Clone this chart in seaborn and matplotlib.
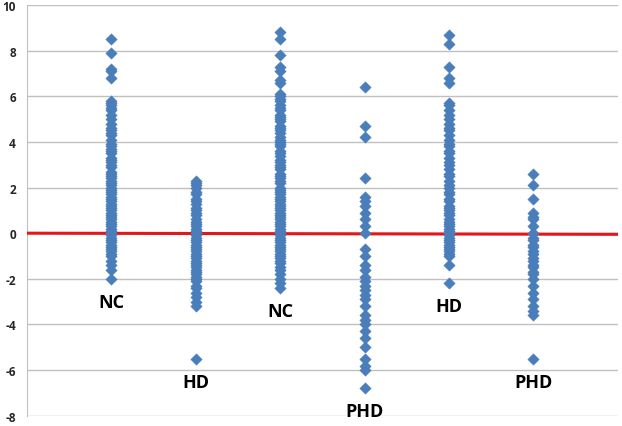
import pandas as pd
import matplotlib
matplotlib.use("Agg")
import matplotlib.pyplot as plt
import seaborn as sns

# group labels, left to right
groups = ["NC", "HD", "NC", "PHD", "HD", "PHD"]

# values, one list per column
nc_1 = [8.5, 7.9, 7.2, 7.1, 6.8, 5.8, 5.7, 5.6, 5.5, 5.4, 5.2, 5.0, 4.8, 4.6, 4.5,
        4.4, 4.3, 4.1, 3.9, 3.8, 3.7, 3.6, 3.5, 3.3, 3.2, 3.1, 3.0, 2.9, 2.7, 2.6,
        2.5, 2.4, 2.3, 2.2, 2.1, 2.0, 1.9, 1.8, 1.7, 1.6, 1.5, 1.4, 1.3, 1.2, 1.1,
        1.0, 0.9, 0.8, 0.7, 0.6, 0.5, 0.4, 0.3, 0.2, 0.1, 0.0, -0.1, -0.2, -0.3,
        -0.4, -0.5, -0.6, -0.7, -0.8, -0.9, -1.0, -1.2, -1.4, -1.6, -2.0]
hd_1 = [2.3, 2.2, 2.1, 2.0, 1.8, 1.7, 1.5, 1.4, 1.3, 1.1, 1.0, 0.9, 0.8, 0.6, 0.5,
        0.4, 0.3, 0.2, 0.1, 0.0, -0.1, -0.2, -0.3, -0.4, -0.5, -0.6, -0.7, -0.8,
        -0.9, -1.0, -1.1, -1.2, -1.3, -1.4, -1.5, -1.6, -1.7, -1.8, -1.9, -2.0,
        -2.1, -2.3, -2.4, -2.6, -2.8, -3.0, -3.2, -5.5]
nc_2 = [8.8, 8.5, 7.8, 7.3, 7.1, 6.7, 6.6, 6.1, 6.0, 5.9, 5.8, 5.6, 5.5, 5.4, 5.2,
        5.1, 5.0, 4.9, 4.7, 4.6, 4.5, 4.4, 4.2, 4.1, 4.0, 3.9, 3.8, 3.6, 3.5, 3.4,
        3.2, 3.1, 3.0, 2.9, 2.8, 2.6, 2.5, 2.4, 2.3, 2.2, 2.0, 1.9, 1.8, 1.7, 1.6,
        1.5, 1.4, 1.3, 1.2, 1.1, 1.0, 0.9, 0.8, 0.7, 0.6, 0.5, 0.4, 0.3, 0.2, 0.1,
        0.0, -0.1, -0.2, -0.3, -0.4, -0.5, -0.6, -0.7, -0.8, -0.9, -1.0, -1.1,
        -1.2, -1.3, -1.5, -1.6, -1.8, -2.0, -2.2, -2.4]
phd_1 = [6.4, 4.7, 4.2, 2.4, 1.6, 1.4, 1.2, 0.9, 0.6, 0.3, 0.0, -0.7, -1.0, -1.4,
         -1.6, -1.9, -2.1, -2.3, -2.5, -2.7, -2.9, -3.2, -3.6, -3.8, -4.0, -4.3,
         -4.6, -5.0, -5.5, -5.8, -6.0, -6.8]
hd_2 = [8.7, 8.3, 7.3, 6.8, 6.6, 5.7, 5.6, 5.4, 5.2, 5.0, 4.8, 4.6, 4.5, 4.3, 4.1,
        3.9, 3.8, 3.6, 3.5, 3.3, 3.1, 3.0, 2.8, 2.6, 2.5, 2.3, 2.1, 2.0, 1.8, 1.7,
        1.5, 1.4, 1.2, 1.1, 1.0, 0.9, 0.8, 0.6, 0.5, 0.4, 0.3, 0.2, 0.1, 0.0, -0.1,
        -0.2, -0.3, -0.4, -0.5, -0.6, -0.7, -0.8, -0.9, -1.0, -1.4, -2.2]
phd_2 = [2.6, 2.1, 1.5, 0.9, 0.7, 0.6, 0.3, 0.0, -0.2, -0.3, -0.5, -0.6, -0.8,
         -0.9, -1.1, -1.2, -1.4, -1.5, -1.7, -1.8, -2.0, -2.3, -2.6, -2.9, -3.2,
         -3.4, -3.6, -5.5]

# red reference line
ref_x = [0, 7]
ref_y = [0.0, -0.05]

columns = [nc_1, hd_1, nc_2, phd_1, hd_2, phd_2]

rows = []
for i, vals in enumerate(columns):
    for v in vals:
        rows.append({"pos": i + 1, "value": v})
df = pd.DataFrame(rows)

sns.set_style("white")
plt.rcParams['font.family'] = ['Open Sans', 'DejaVu Sans']
plt.rcParams['axes.unicode_minus'] = False

fig = plt.figure(figsize=(6.22, 4.27), dpi=100)
ax = fig.add_axes([0.0434, 0.024, 0.950, 0.962])

sns.lineplot(x=ref_x, y=ref_y, color="#e3171b", linewidth=2.2, ax=ax, zorder=3)
sns.scatterplot(data=df, x="pos", y="value", marker="D", s=34, color="#4a7ebb",
                edgecolor="#4a7ebb", linewidth=0.3, ax=ax, zorder=4)

# group labels under each column
for i, vals in enumerate(columns):
    ax.text(i + 1, min(vals) - 1.0, groups[i], ha="center", va="center",
            fontsize=13, fontweight="bold", color="black")

ax.set_xlim(0, 7)
ax.set_ylim(-8, 10)
ax.set_yticks(range(-8, 11, 2))
ax.set_xticks([])
ax.set_xlabel("")
ax.set_ylabel("")
ax.grid(axis="y", color="#c0c0c0", linewidth=1)
ax.set_axisbelow(True)
ax.tick_params(axis="y", length=0, pad=8, labelsize=8.5)
for lab in ax.get_yticklabels():
    lab.set_fontweight("bold")

for side in ["top", "right", "bottom"]:
    ax.spines[side].set_visible(False)
ax.spines["left"].set_color("#c0c0c0")

fig.savefig("out.png", dpi=100)
